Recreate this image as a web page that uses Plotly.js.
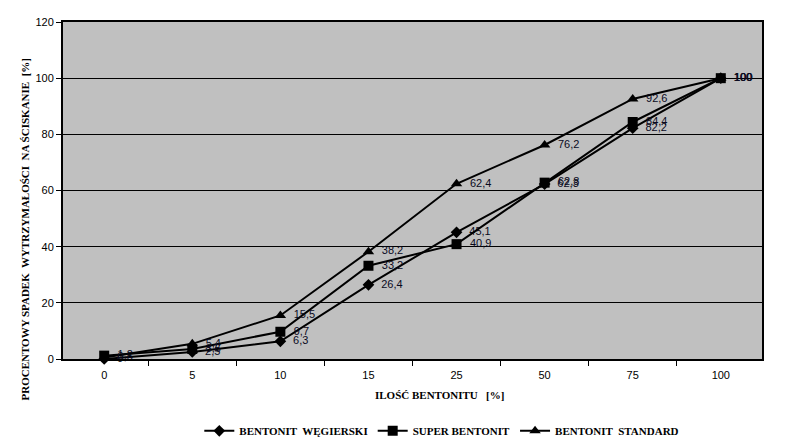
<!DOCTYPE html>
<html>
<head>
<meta charset="utf-8">
<script src="https://cdn.plot.ly/plotly-3.0.1.min.js"></script>
<style>html,body{margin:0;padding:0;background:#fff;}#chart{width:792px;height:440px;}</style>
</head>
<body>
<div id="chart"></div>
<script>
const categories = ['0', '5', '10', '15', '25', '50', '75', '100'];
const wegierski = [0, 2.5, 6.3, 26.4, 45.1, 62.3, 82.2, 100];
const superBentonit = [1.2, 3.6, 9.7, 33.2, 40.9, 62.8, 84.4, 100];
const standard = [0.5, 5.4, 15.5, 38.2, 62.4, 76.2, 92.6, 100];
const seriesNames = ['BENTONIT  WĘGIERSKI', 'SUPER BENTONIT', 'BENTONIT  STANDARD'];
const yTitle = 'PROCENTOWY SPADEK  WYTRZYMAŁOŚCI  NA ŚCISKANIE  [%]';
const xTitle = 'ILOŚĆ BENTONITU   [%]';

function fmt(v) { return '\u00a0\u00a0' + String(v).replace('.', ','); }

function trace(y, name, symbol, size) {
  return {
    x: categories, y: y, name: name, type: 'scatter', mode: 'lines+markers+text',
    line: {color: '#000', width: 2},
    marker: {color: '#000', symbol: symbol, size: size},
    text: y.map(fmt), textposition: 'middle right',
    textfont: {family: 'Arial, Liberation Sans, sans-serif', size: 11, color: '#0a0a1e'},
    cliponaxis: false
  };
}

const data = [
  trace(wegierski, seriesNames[0], 'diamond', 9),
  trace(superBentonit, seriesNames[1], 'square', 10),
  trace(standard, seriesNames[2], 'triangle-up', 10)
];

const layout = {
  width: 792, height: 440,
  margin: {l: 63, r: 30, t: 22, b: 81, autoexpand: false},
  paper_bgcolor: '#fff', plot_bgcolor: '#c0c0c0',
  font: {family: 'Arial, Liberation Sans, sans-serif', size: 11, color: '#000'},
  xaxis: {
    type: 'category', tickson: 'boundaries', ticks: 'outside', ticklen: 5, tickcolor: '#000',
    showgrid: false, showline: true, linecolor: '#000', linewidth: 2, mirror: true,
    tickfont: {family: 'Arial, Liberation Sans, sans-serif', size: 11, color: '#000'},
    zeroline: false, ticklabelstandoff: 5
  },
  yaxis: {
    range: [0, 120], dtick: 20, ticks: 'outside', ticklen: 5, tickcolor: '#000',
    showgrid: true, gridcolor: '#000', gridwidth: 1,
    showline: true, linecolor: '#000', linewidth: 2, mirror: true, zeroline: false,
    tickfont: {family: 'Arial, Liberation Sans, sans-serif', size: 11, color: '#000'}
  },
  showlegend: true,
  legend: {
    orientation: 'h', x: 0.195, xanchor: 'left', y: -0.17, yanchor: 'top',
    font: {family: 'Liberation Serif, Times New Roman, serif', size: 11, color: '#000', weight: 'bold'},
    bgcolor: 'rgba(0,0,0,0)', itemwidth: 30
  },
  annotations: [
    {text: '<b>' + yTitle + '</b>', xref: 'paper', yref: 'paper', x: -0.054, y: 0.385,
     textangle: -90, showarrow: false, xanchor: 'center', yanchor: 'middle',
     font: {family: 'Liberation Serif, Times New Roman, serif', size: 11, color: '#000'}},
    {text: '<b>' + xTitle + '</b>', xref: 'paper', yref: 'paper', x: 0.539, y: -0.107,
     showarrow: false, xanchor: 'center', yanchor: 'middle',
     font: {family: 'Liberation Serif, Times New Roman, serif', size: 11, color: '#000'}}
  ]
};

Plotly.newPlot('chart', data, layout, {displayModeBar: false, staticPlot: true});
</script>
</body>
</html>
